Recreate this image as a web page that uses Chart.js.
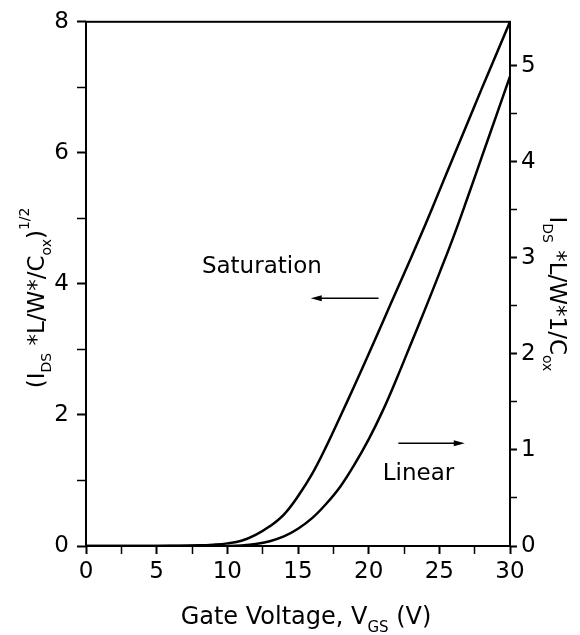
<!DOCTYPE html>
<html>
<head>
<meta charset="utf-8">
<script src="https://cdn.jsdelivr.net/npm/chart.js@4.4.0/dist/chart.umd.min.js"></script>
<style>
body{margin:0;background:#fff;}
</style>
</head>
<body>
<canvas id="myChart" width="580" height="635"></canvas>
<script>
// gate voltage (V)
var vgs = [0,2,4,6,8,9,10,11,12,13,14,15,16,17,18,19,20,21,22,23,24,25,26,27,28,29,30];
// saturation: (Ids*L/W*/Cox)^1/2 , left axis
var satValues = [0,0,0,0.004,0.01,0.02,0.04,0.08,0.17,0.30,0.48,0.76,1.10,1.52,1.98,2.45,2.93,3.42,3.91,4.40,4.90,5.42,5.94,6.46,6.98,7.49,8.00];
// linear: Ids*L/W*1/Cox , right axis
var linValues = [0,0,0,0,0,0,0,0.005,0.02,0.05,0.10,0.18,0.29,0.44,0.62,0.85,1.11,1.41,1.75,2.11,2.47,2.84,3.22,3.63,4.05,4.47,4.89];
// tick labels
var xTicks = [0,5,10,15,20,25,30];
var leftTicks = [0,2,4,6,8];
var rightTicks = [0,1,2,3,4,5];

var FONT = '"DejaVu Sans", sans-serif';

function toPoints(xs, ys){
  return xs.map(function(v, i){ return {x: v, y: ys[i]}; });
}

// text with sub/superscripts, parts = [text, kind] kind 0 normal,1 sub,2 sup
function drawParts(ctx, parts, cx, cy, angle, size){
  ctx.save();
  ctx.translate(cx, cy);
  ctx.rotate(angle);
  ctx.fillStyle = '#000';
  ctx.textBaseline = 'middle';
  ctx.textAlign = 'left';
  var total = 0;
  parts.forEach(function(p){
    ctx.font = (p[1] ? Math.round(size*0.62) : size) + 'px ' + FONT;
    total += ctx.measureText(p[0]).width;
  });
  var x = -total/2;
  parts.forEach(function(p){
    ctx.font = (p[1] ? Math.round(size*0.62) : size) + 'px ' + FONT;
    var dy = p[1]==1 ? size*0.42 : p[1]==2 ? -size*0.55 : 0;
    ctx.fillText(p[0], x, dy);
    x += ctx.measureText(p[0]).width;
  });
  ctx.restore();
}

function arrow(ctx, x1, y, x2){
  var dir = x2 > x1 ? 1 : -1;
  ctx.beginPath();
  ctx.moveTo(x1, y);
  ctx.lineTo(x2 - dir*8, y);
  ctx.lineWidth = 1.5;
  ctx.stroke();
  ctx.beginPath();
  ctx.moveTo(x2, y);
  ctx.lineTo(x2 - dir*11, y - 3);
  ctx.lineTo(x2 - dir*11, y + 3);
  ctx.closePath();
  ctx.fill();
}

var extras = {
  id: 'extras',
  afterDraw: function(chart){
    var ctx = chart.ctx;
    var a = chart.chartArea;
    var sx = chart.scales.x, sy = chart.scales.y;
    ctx.save();
    ctx.strokeStyle = '#000';
    ctx.fillStyle = '#000';
    ctx.lineWidth = 2;
    ctx.strokeRect(a.left, a.top, a.right - a.left, a.bottom - a.top);

    // labels inside plot
    ctx.font = '23px ' + FONT;
    ctx.textBaseline = 'middle';
    ctx.textAlign = 'left';
    ctx.fillText('Saturation', sx.getPixelForValue(8.2), sy.getPixelForValue(4.26));
    arrow(ctx, sx.getPixelForValue(20.7), sy.getPixelForValue(3.78), sx.getPixelForValue(15.9));
    ctx.fillText('Linear', sx.getPixelForValue(21.0), sy.getPixelForValue(1.10));
    arrow(ctx, sx.getPixelForValue(22.1), sy.getPixelForValue(1.57), sx.getPixelForValue(26.8));

    // axis titles
    var midY = (a.top + a.bottom)/2;
    drawParts(ctx, [['Gate Voltage, V',0],['GS',1],[' (V)',0]], (a.left + a.right)/2 + 8, 618, 0, 24);
    drawParts(ctx, [['(I',0],['DS',1],[' *L/W*/C',0],['ox',1],[')',0],['1/2',2]], 38, midY + 14, -Math.PI/2, 23);
    drawParts(ctx, [['I',0],['DS',1],[' *L/W*1/C',0],['ox',1]], 556, midY + 10, Math.PI/2, 23);
    ctx.restore();
  }
};

function onlyHalfSteps(scale){
  scale.ticks = scale.ticks.filter(function(t){
    return Math.abs(t.value*2 - Math.round(t.value*2)) < 1e-6;
  });
}

function tickW(list){
  return function(c){ return list.indexOf(c.tick.value) >= 0 ? 2 : 1.5; };
}

var ctx = document.getElementById('myChart');
var myChart = new Chart(ctx, {
  type: 'line',
  data: {
    datasets: [
      {
        label: 'Saturation',
        data: toPoints(vgs, satValues),
        yAxisID: 'y',
        borderColor: '#000',
        borderWidth: 2.5,
        pointRadius: 0,
        fill: false,
        tension: 0.4
      },
      {
        label: 'Linear',
        data: toPoints(vgs, linValues),
        yAxisID: 'y2',
        borderColor: '#000',
        borderWidth: 2.5,
        pointRadius: 0,
        fill: false,
        tension: 0.4
      }
    ]
  },
  options: {
    responsive: false,
    animation: false,
    layout: {padding: {top: 20, left: 0, right: 0, bottom: 0}},
    plugins: {legend: {display: false}, tooltip: {enabled: false}},
    scales: {
      x: {
        type: 'linear',
        min: 0, max: 30,
        afterFit: function(s){ s.height = 89; },
        grid: {drawOnChartArea: false, color: '#000', tickLength: 8, tickWidth: tickW(xTicks)},
        border: {display: false},
        ticks: {
          stepSize: 2.5,
          color: '#000',
          padding: 4,
          maxRotation: 0,
          autoSkip: false,
          font: {family: FONT, size: 23},
          callback: function(v){ return xTicks.indexOf(v) >= 0 ? v : ''; }
        }
      },
      y: {
        position: 'left',
        min: 0, max: 8,
        afterFit: function(s){ s.width = 86; },
        grid: {drawOnChartArea: false, color: '#000', tickLength: 9, tickWidth: tickW(leftTicks)},
        border: {display: false},
        ticks: {
          stepSize: 1,
          color: '#000',
          padding: 8,
          autoSkip: false,
          font: {family: FONT, size: 23},
          callback: function(v){ return leftTicks.indexOf(v) >= 0 ? v : ''; }
        }
      },
      y2: {
        position: 'right',
        min: 0, max: 5.46,
        afterFit: function(s){ s.width = 70; },
        afterBuildTicks: onlyHalfSteps,
        grid: {drawOnChartArea: false, color: '#000', tickLength: 7, tickWidth: tickW(rightTicks)},
        border: {display: false},
        ticks: {
          stepSize: 0.5,
          color: '#000',
          padding: 4,
          autoSkip: false,
          font: {family: FONT, size: 23},
          callback: function(v){ return rightTicks.indexOf(v) >= 0 ? v : ''; }
        }
      }
    }
  },
  plugins: [extras]
});
</script>
</body>
</html>
